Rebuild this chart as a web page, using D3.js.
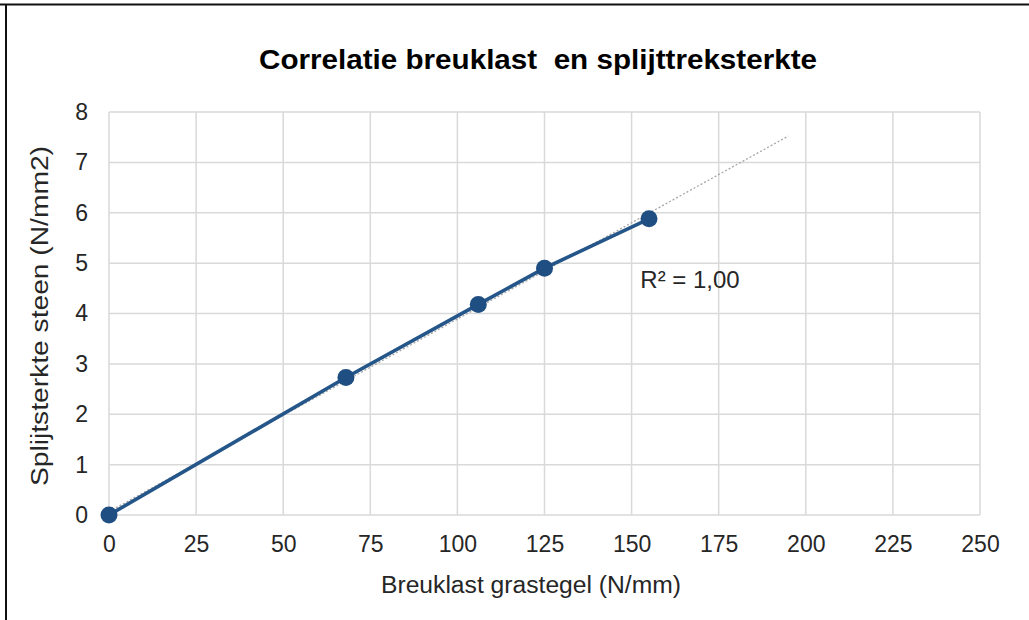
<!DOCTYPE html>
<html>
<head>
<meta charset="utf-8">
<script src="https://cdn.jsdelivr.net/npm/d3@7"></script>
<style>
  body { margin: 0; background: #fff; }
  svg text { font-family: "Liberation Sans", Arial, sans-serif; fill: #262626; }
</style>
</head>
<body>
<div id="chart"></div>
<script>
/* DATA */
const breuklast = [0, 68, 106, 125, 155];          // N/mm
const splijtsterkte = [0, 2.73, 4.18, 4.9, 5.88];  // N/mm2
const xTicks = [0, 25, 50, 75, 100, 125, 150, 175, 200, 225, 250];
const yTicks = [0, 1, 2, 3, 4, 5, 6, 7, 8];
const trendForward = 40; // trendline forecast past last point
const r2Label = "R² = 1,00";

/* CONSTANTS */
const width = 1029, height = 620;
const margin = { top: 112, bottom: 105, left: 109, right: 49 };

const svg = d3.select("#chart")
  .append("svg")
  .attr("width", width)
  .attr("height", height);

// frame (top + left edge of the cropped screenshot)
svg.append("line")
  .attr("x1", 0).attr("x2", width).attr("y1", 4.5).attr("y2", 4.5)
  .attr("stroke", "#111").attr("stroke-width", 2);
svg.append("line")
  .attr("x1", 6).attr("x2", 6).attr("y1", 4).attr("y2", height)
  .attr("stroke", "#111").attr("stroke-width", 2);

// + SCALES
const xScale = d3.scaleLinear()
  .domain([0, 250])
  .range([margin.left, width - margin.right]);

const yScale = d3.scaleLinear()
  .domain([0, 8])
  .range([height - margin.bottom, margin.top]);

// + GRID
const grid = svg.append("g");
grid.selectAll(".vgrid")
  .data(xTicks)
  .join("line")
  .attr("x1", d => xScale(d)).attr("x2", d => xScale(d))
  .attr("y1", yScale(0)).attr("y2", yScale(8))
  .attr("stroke", "#d9d9d9").attr("stroke-width", 1.5);
grid.selectAll(".hgrid")
  .data(yTicks)
  .join("line")
  .attr("x1", xScale(0)).attr("x2", xScale(250))
  .attr("y1", d => yScale(d)).attr("y2", d => yScale(d))
  .attr("stroke", "#d9d9d9").attr("stroke-width", 1.5);

// + AXES (labels only)
const xAxis = d3.axisBottom(xScale).tickValues(xTicks).tickSize(0).tickPadding(21);
const yAxis = d3.axisLeft(yScale).tickValues(yTicks).tickSize(0).tickPadding(21);

svg.append("g")
  .attr("transform", `translate(0, ${yScale(0)})`)
  .call(xAxis)
  .call(g => g.select(".domain").remove())
  .selectAll("text")
  .attr("font-size", 23)
  .style("font-family", "Liberation Sans, Arial, sans-serif")
  .attr("fill", "#262626");

svg.append("g")
  .attr("transform", `translate(${xScale(0)}, 0)`)
  .call(yAxis)
  .call(g => g.select(".domain").remove())
  .selectAll("text")
  .attr("font-size", 23)
  .style("font-family", "Liberation Sans, Arial, sans-serif")
  .attr("fill", "#262626");

// + TRENDLINE (linear least squares)
const mx = d3.mean(breuklast), my = d3.mean(splijtsterkte);
const sxy = d3.sum(breuklast, (x, i) => (x - mx) * (splijtsterkte[i] - my));
const sxx = d3.sum(breuklast, x => (x - mx) * (x - mx));
const slope = sxy / sxx;
const intercept = my - slope * mx;
const tx0 = 0, tx1 = d3.max(breuklast) + trendForward;

svg.append("line")
  .attr("x1", xScale(tx0)).attr("y1", yScale(intercept + slope * tx0))
  .attr("x2", xScale(tx1)).attr("y2", yScale(intercept + slope * tx1))
  .attr("stroke", "#a6a6a6")
  .attr("stroke-width", 1.3)
  .attr("stroke-dasharray", "2,2");

// + LINE + POINTS
const pts = breuklast.map((x, i) => ({ x, y: splijtsterkte[i] }));
const line = d3.line().x(d => xScale(d.x)).y(d => yScale(d.y));

svg.append("path")
  .datum(pts)
  .attr("d", line)
  .attr("fill", "none")
  .attr("stroke", "#255689")
  .attr("stroke-width", 3.6);

svg.selectAll("circle.dot")
  .data(pts)
  .join("circle")
  .attr("class", "dot")
  .attr("cx", d => xScale(d.x))
  .attr("cy", d => yScale(d.y))
  .attr("r", 8.5)
  .attr("fill", "#1f4e82");

// + R² LABEL
svg.append("text")
  .attr("x", xScale(152.5))
  .attr("y", yScale(4.5))
  .attr("font-size", 24)
  .text(r2Label);

// + TITLE + AXIS TITLES
svg.append("text")
  .attr("x", 538)
  .attr("y", 69)
  .attr("text-anchor", "middle")
  .attr("font-size", 28.5)
  .attr("font-weight", "bold")
  .attr("textLength", 558)
  .attr("lengthAdjust", "spacingAndGlyphs")
  .style("fill", "#000")
  .style("white-space", "pre")
  .attr("xml:space", "preserve")
  .text("Correlatie breuklast  en splijttreksterkte");

svg.append("text")
  .attr("x", 531)
  .attr("y", 593)
  .attr("text-anchor", "middle")
  .attr("font-size", 23.5)
  .attr("textLength", 300)
  .attr("lengthAdjust", "spacingAndGlyphs")
  .text("Breuklast grastegel (N/mm)");

svg.append("text")
  .attr("transform", `translate(48, 316) rotate(-90)`)
  .attr("text-anchor", "middle")
  .attr("font-size", 23.5)
  .attr("textLength", 340)
  .attr("lengthAdjust", "spacingAndGlyphs")
  .text("Splijtsterkte steen (N/mm2)");
</script>
</body>
</html>
